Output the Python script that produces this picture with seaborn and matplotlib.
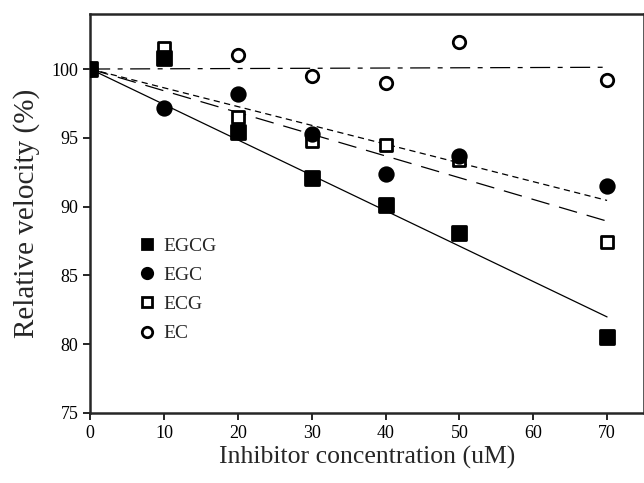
import numpy as np
import pandas as pd
import matplotlib
matplotlib.use("Agg")
import matplotlib.pyplot as plt
import seaborn as sns

conc = [0, 10, 20, 30, 40, 50, 70]
egcg = [100, 100.8, 95.4, 92.1, 90.1, 88.1, 80.5]
egc = [100, 97.2, 98.2, 95.3, 92.4, 93.7, 91.5]
ecg = [100, 101.5, 96.5, 94.8, 94.5, 93.4, 87.4]
ec = [100, 101.0, 101.0, 99.5, 99.0, 102.0, 99.2]
names = ["EGCG", "EGC", "ECG", "EC"]
xticks = [0, 10, 20, 30, 40, 50, 60, 70]
yticks = [75, 80, 85, 90, 95, 100]


def main():
    sns.set_style("ticks")
    plt.rcParams["font.family"] = ["Liberation Serif", "DejaVu Serif"]

    df = pd.DataFrame({"conc": conc, "EGCG": egcg, "EGC": egc, "ECG": ecg, "EC": ec})
    long = df.melt(id_vars="conc", var_name="compound", value_name="vel")

    fig = plt.figure(figsize=(6.44, 4.83), dpi=100)
    ax = fig.add_axes([0.14, 0.145, 0.86, 0.826])

    # trend lines forced through 100 %
    styles = {"EGCG": "-", "EGC": (0, (5, 3.5)), "ECG": (0, (15, 8)), "EC": (0, (16, 6, 4, 6))}
    x = np.array(conc, dtype=float)
    xs = np.array([0, 70.0])
    for n in names:
        y = df[n].values - 100
        slope = (x * y).sum() / (x * x).sum()
        line = pd.DataFrame({"x": xs, "y": 100 + slope * xs})
        sns.lineplot(data=line, x="x", y="y", ax=ax, color="black", lw=0.9,
                     linestyle=styles[n], legend=False)

    marks = {"EGCG": "s", "EGC": "o", "ECG": "s", "EC": "o"}
    faces = {"EGCG": "black", "EGC": "black", "ECG": "white", "EC": "white"}
    sizes = {"EGCG": 95, "EGC": 95, "ECG": 85, "EC": 80}
    handles = []
    for n in reversed(names):
        sub = long[long["compound"] == n]
        sns.scatterplot(data=sub, x="conc", y="vel", ax=ax, marker=marks[n],
                        s=sizes[n], color=faces[n], edgecolor="black", linewidth=2,
                        zorder=3, legend=False)
    for n in names:
        h, = ax.plot([], [], linestyle="none", marker=marks[n], markersize=7.5,
                     markerfacecolor=faces[n], markeredgecolor="black",
                     markeredgewidth=2)
        handles.append(h)

    ax.legend(handles, names, loc="upper left", bbox_to_anchor=(0.055, 0.485),
              frameon=False, fontsize=14, handletextpad=0.4, labelspacing=0.6,
              handlelength=0.9)

    ax.set_xlim(0, 75)
    ax.set_ylim(75, 104)
    ax.set_xticks(xticks)
    ax.set_yticks(yticks)
    ax.tick_params(labelsize=13, length=5, width=1.2, direction="out", colors="black")
    for s in ax.spines.values():
        s.set_linewidth(1.8)
        s.set_visible(True)
    ax.set_xlabel("Inhibitor concentration (uM)", fontsize=18.5, labelpad=3)
    ax.set_ylabel("Relative velocity (%)", fontsize=21, labelpad=8)

    fig.savefig("out.png", dpi=100)


if __name__ == "__main__":
    main()
